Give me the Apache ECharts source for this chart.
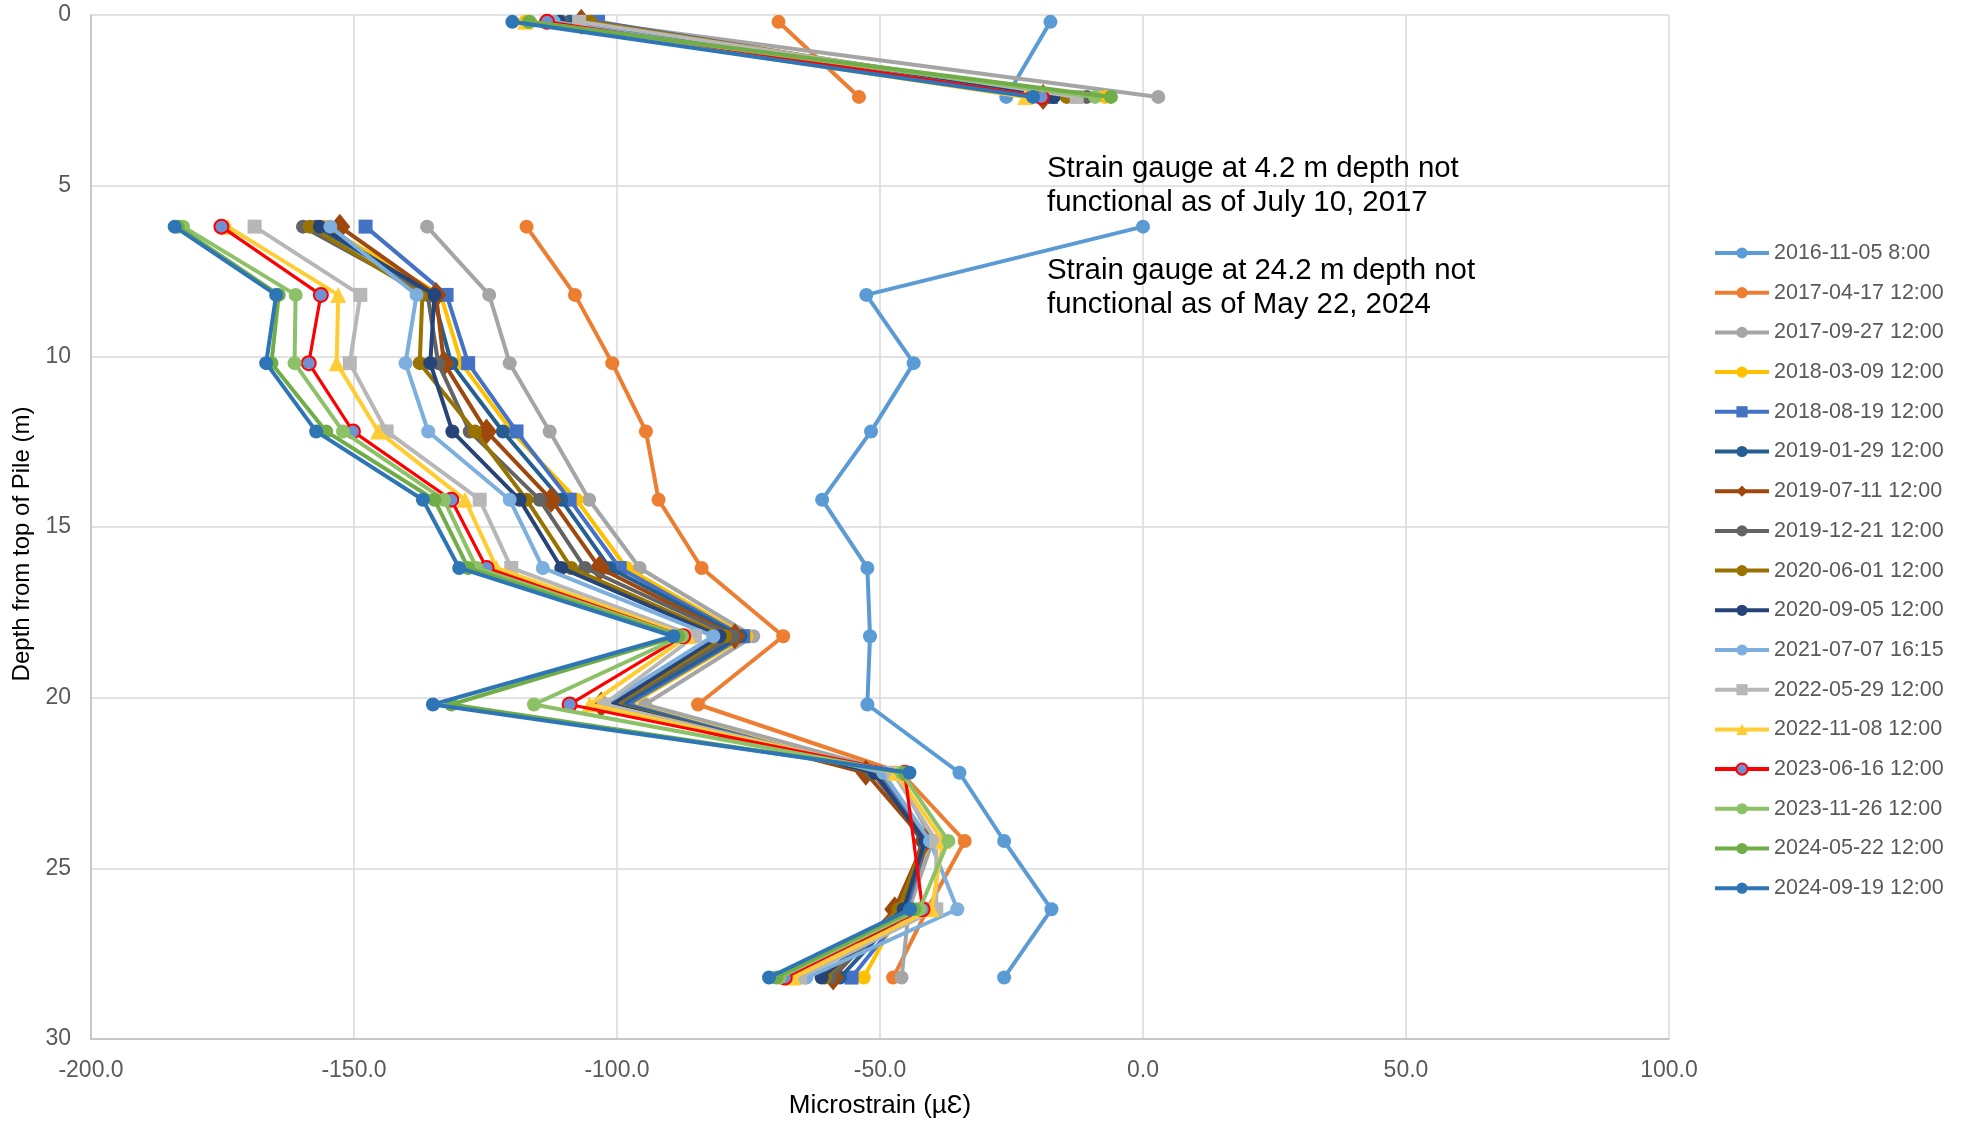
<!DOCTYPE html>
<html><head><meta charset="utf-8">
<script src="https://cdn.jsdelivr.net/npm/echarts@6/dist/echarts.min.js"></script>
<style>html,body{margin:0;padding:0;background:#fff}#c{width:1963px;height:1124px}</style>
</head><body><div id="c"></div>
<script>
// Depths (m) of the strain gauges; 4.2 m gauge has no readings (gap)
const depths = [0.2, 2.4, 4.2, 6.2, 8.2, 10.2, 12.2, 14.2, 16.2, 18.2, 20.2, 22.2, 24.2, 26.2, 28.2];

// Microstrain readings per date (null = gap, undefined = no point, line bridged)
const s20161105 = [-17.6, -26.0, null, 0.0, -52.6, -43.6, -51.7, -61.0, -52.4, -51.9, -52.4, -34.9, -26.4, -17.4, -26.4];
const s20170417 = [-69.3, -54.0, null, -117.2, -108.0, -100.9, -94.5, -92.1, -83.9, -68.4, -84.6, -46.0, -33.9, -41.0, -47.5];
const s20170927 = [-105.5, 2.9, null, -136.1, -124.3, -120.4, -112.8, -105.3, -95.7, -74.1, -94.7, -47.0, -40.0, -44.5, -45.9];
const s20180309 = [-117.5, -7.2, null, -155.5, -133.5, -129.6, -120.0, -107.7, -98.2, -75.4, -97.5, -50.0, -40.5, -46.0, -53.1];
const s20180819 = [-103.6, -17.5, null, -147.8, -132.4, -128.3, -119.1, -109.0, -99.5, -76.0, -98.0, -50.5, -41.0, -45.0, -55.4];
const s20190129 = [-109.0, -18.0, null, -157.2, -135.0, -131.5, -121.7, -110.6, -101.4, -76.5, -99.0, -51.0, -42.0, -45.5, -57.6];
const s20190711 = [-106.8, -19.0, null, -152.7, -134.4, -132.9, -124.8, -112.5, -103.3, -77.6, -103.0, -52.7, -41.5, -47.2, -58.9];
const s20191221 = [-110.5, -10.7, null, -159.7, -136.0, -134.0, -128.0, -114.7, -106.1, -77.9, -100.0, -51.5, -41.0, -45.5, -59.5];
const s20200601 = [-105.1, -14.5, null, -158.4, -137.0, -137.5, -127.0, -117.2, -108.7, -79.5, -100.5, -51.0, -41.5, -46.5, -60.5];
const s20200905 = [-111.0, -17.0, null, -156.5, -134.7, -135.5, -131.3, -118.5, -110.6, -80.5, -101.0, -51.0, -41.5, -45.5, -61.1];
const s20210707 = [-112.0, -20.0, null, -154.5, -138.1, -140.2, -135.9, -120.4, -114.1, -81.7, -102.4, -49.4, -40.5, -35.3, -64.0];
const s20220529 = [-107.2, -12.6, null, -168.9, -148.8, -150.8, -143.8, -126.1, -120.1, -85.2, -102.5, -47.5, -39.3, -39.3, -65.2];
const s20221108 = [-117.5, -22.4, null, -174.0, -153.0, -153.3, -145.4, -128.9, -122.9, -86.5, -105.2, -47.0, -38.0, -40.2, -66.5];
const s20230616 = [-113.3, -19.3, null, -175.2, -156.3, -158.6, -150.2, -131.5, -124.8, -87.4, -109.0, -45.3, undefined, -41.9, -68.1];
const s20231126 = [-116.5, -9.1, null, -182.5, -161.1, -161.3, -152.1, -132.9, -126.7, -87.7, -115.8, -45.9, -37.0, -42.5, -69.1];
const s20240522 = [-116.8, -6.1, null, -183.5, -164.3, -165.7, -155.3, -134.7, -128.3, -88.4, -131.5, -45.3, null, -43.5, -69.7];
const s20240919 = [-119.9, -20.9, null, -184.1, -164.8, -166.7, -157.2, -136.9, -130.0, -89.3, -135.0, -44.4, null, -44.3, -71.1];

const seriesNames = ['2016-11-05 8:00','2017-04-17 12:00','2017-09-27 12:00','2018-03-09 12:00','2018-08-19 12:00','2019-01-29 12:00','2019-07-11 12:00','2019-12-21 12:00','2020-06-01 12:00','2020-09-05 12:00','2021-07-07 16:15','2022-05-29 12:00','2022-11-08 12:00','2023-06-16 12:00','2023-11-26 12:00','2024-05-22 12:00','2024-09-19 12:00'];
const seriesValues = [s20161105,s20170417,s20170927,s20180309,s20180819,s20190129,s20190711,s20191221,s20200601,s20200905,s20210707,s20220529,s20221108,s20230616,s20231126,s20240522,s20240919];

const xTicks = {min: -200, max: 100, interval: 50};
const yTicks = {min: 0, max: 30, interval: 5};

const annotation = 'Strain gauge at 4.2 m depth not\nfunctional as of July 10, 2017\n\nStrain gauge at 24.2 m depth not\nfunctional as of May 22, 2024';

// styles
const lineColors = ['#5B9BD5','#ED7D31','#A5A5A5','#FFC000','#4472C4','#255E91','#9E480E','#636363','#997300','#264478','#7CAFDD','#B7B7B7','#FFCD33','#FF0000','#8CC168','#70AD47','#2E75B6'];
const fillColors = lineColors.slice(); fillColors[13] = '#6F91D2';
const symbols = ['circle','circle','circle','circle','rect','circle','diamond','circle','circle','circle','circle','rect','triangle','circle','circle','circle','circle'];
const FONT = '"Liberation Sans", Arial, sans-serif';

const series = seriesNames.map((name, k) => {
  const vals = seriesValues[k];
  const data = [];
  depths.forEach((d, i) => {
    if (vals[i] === undefined) return;
    data.push([vals[i] === null ? '-' : vals[i], d]);
  });
  const sym = symbols[k];
  let size = 14;
  if (sym === 'diamond') size = [21, 26];
  if (sym === 'rect') size = 14;
  if (sym === 'triangle') size = 16;
  return {
    name, type: 'line', data,
    symbol: sym, symbolSize: size, showSymbol: true,
    connectNulls: false,
    lineStyle: {color: lineColors[k], width: k === 13 ? 3.2 : 4},
    itemStyle: {color: fillColors[k], borderColor: lineColors[k], borderWidth: k === 13 ? 2 : 0},
    emphasis: {disabled: true},
    z: 2 + k
  };
});

const chart = echarts.init(document.getElementById('c'), null, {renderer: 'canvas'});
chart.setOption({
  animation: false,
  backgroundColor: '#fff',
  textStyle: {fontFamily: FONT},
  grid: {left: 91, top: 15, right: 294, bottom: 85, containLabel: false},
  xAxis: {
    type: 'value', min: xTicks.min, max: xTicks.max, interval: xTicks.interval,
    name: 'Microstrain (µƐ)', nameLocation: 'middle', nameGap: 54,
    nameTextStyle: {fontSize: 26, color: '#000', fontFamily: FONT},
    axisLine: {show: true, onZero: false, lineStyle: {color: '#BFBFBF', width: 1.5}},
    axisTick: {show: false},
    axisLabel: {fontSize: 23, color: '#595959', margin: 20, formatter: v => v.toFixed(1), fontFamily: FONT},
    splitLine: {show: true, lineStyle: {color: '#D9D9D9', width: 1.5}}
  },
  yAxis: {
    type: 'value', inverse: true, min: yTicks.min, max: yTicks.max, interval: yTicks.interval,
    name: 'Depth from top of Pile (m)', nameLocation: 'middle', nameGap: 56, nameRotate: 90,
    nameTextStyle: {fontSize: 24, color: '#000', fontFamily: FONT, padding: [0, 34, 0, 0]},
    axisLine: {show: true, onZero: false, lineStyle: {color: '#BFBFBF', width: 1.5}},
    axisTick: {show: false},
    axisLabel: {fontSize: 23, color: '#595959', margin: 20, fontFamily: FONT},
    splitLine: {show: true, lineStyle: {color: '#D9D9D9', width: 1.5}}
  },
  legend: {
    orient: 'vertical', left: 1708, top: 237,
    itemWidth: 54, itemHeight: 14, itemGap: 17.7,
    lineStyle: {width: 4},
    textStyle: {fontSize: 21.5, color: '#595959', fontFamily: FONT, lineHeight: 21.5},
    data: seriesNames
  },
  graphic: [{
    type: 'text', left: 1047, top: 152, z: 100,
    style: {text: annotation, font: '29.4px ' + FONT, fill: '#000', lineHeight: 34}
  }],
  series
});
</script></body></html>
